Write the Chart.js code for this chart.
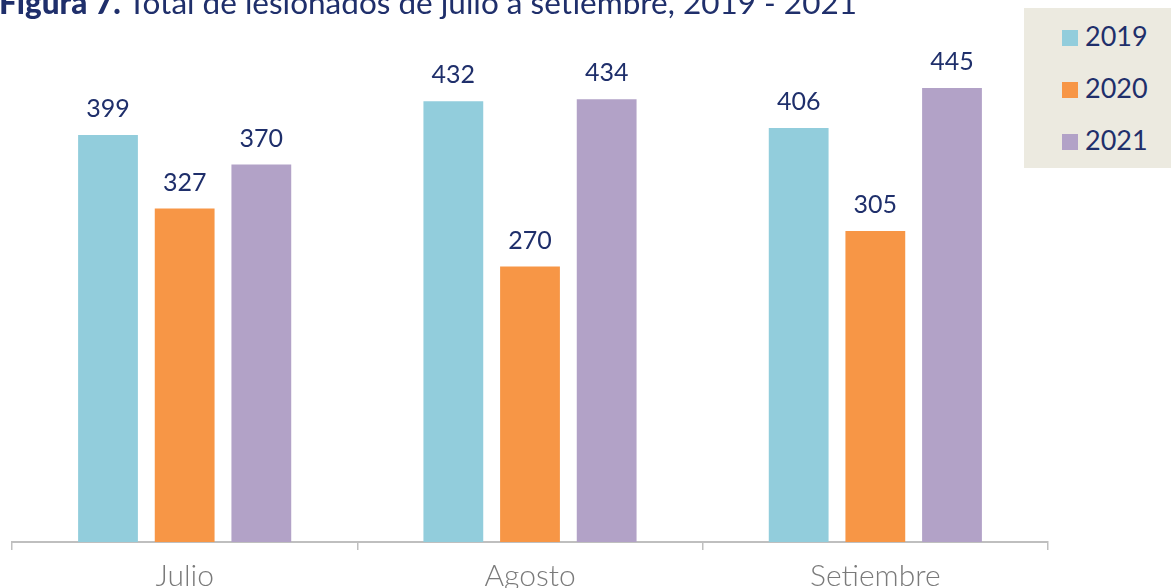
<!DOCTYPE html>
<html><head><meta charset="utf-8">
<script src="https://cdn.jsdelivr.net/npm/chart.js@4"></script>
<style>
html,body{margin:0;padding:0;background:#fff;overflow:hidden}
#wrap{position:relative;width:1171px;height:588px;overflow:hidden}
#title{position:absolute;left:-1px;top:-13px;font-family:"Lato",sans-serif;font-size:31.5px;line-height:31px;color:#1F2F6B;white-space:nowrap}
#title b{font-weight:900}
#legend{position:absolute;left:1024px;top:8px;width:147px;height:160px;background:#ECEAE0}
.li{position:absolute;left:38px;font-family:"Lato",sans-serif;font-size:27px;color:#1F2F6B;line-height:30px}
.li span{display:inline-block;width:16px;height:16px;margin-right:7px;vertical-align:0px}
canvas{position:absolute;left:0;top:0}
</style></head>
<body><div id="wrap">
<canvas id="c" width="1171" height="602"></canvas>
<div id="title"><b>Figura 7.</b> Total de lesionados de julio a setiembre, 2019 - 2021</div>
<div id="legend"></div>
</div>
<script>
const categories = ["Julio", "Agosto", "Setiembre"];
const seriesNames = ["2019", "2020", "2021"];
const values2019 = [399, 432, 406];
const values2020 = [327, 270, 305];
const values2021 = [370, 434, 445];
const colors = ["#92CDDC", "#F79646", "#B2A2C7"];

const allValues = [values2019, values2020, values2021];
const datasets = seriesNames.map((n, i) => ({
  label: n, data: allValues[i], backgroundColor: colors[i],
  categoryPercentage: 0.666, barPercentage: 0.78
}));

const lg = document.getElementById('legend');
seriesNames.forEach((n, i) => {
  const d = document.createElement('div');
  d.className = 'li';
  d.style.top = (13 + i * 52) + 'px';
  d.innerHTML = '<span style="background:' + colors[i] + '"></span>' + n;
  lg.appendChild(d);
});

const labelPlugin = {
  id: 'vals',
  afterDatasetsDraw(chart) {
    const ctx = chart.ctx;
    ctx.save();
    ctx.font = '25px Lato, sans-serif';
    ctx.fillStyle = '#1F2F6B';
    ctx.textAlign = 'center';
    ctx.textBaseline = 'middle';
    chart.data.datasets.forEach((ds, i) => {
      chart.getDatasetMeta(i).data.forEach((bar, j) => {
        ctx.fillText(String(ds.data[j]), bar.x, bar.y - 26);
      });
    });
    ctx.restore();
  }
};

new Chart(document.getElementById('c'), {
  type: 'bar',
  data: { labels: categories, datasets },
  options: {
    responsive: false, animation: false,
    layout: { padding: { left: 12, right: 123, top: 32, bottom: 0 } },
    plugins: { legend: { display: false }, tooltip: { enabled: false } },
    scales: {
      y: { display: false, min: 0, max: 500 },
      x: {
        offset: true,
        grid: { offset: true, drawOnChartArea: false, color: '#BFBFBF', tickLength: 8, lineWidth: 1.5 },
        border: { color: '#BFBFBF', width: 2 },
        ticks: { color: '#7A7A7A', font: { family: 'Lato', size: 30, weight: 300 }, padding: 8 }
      }
    }
  },
  plugins: [labelPlugin]
});
</script>
</body></html>
